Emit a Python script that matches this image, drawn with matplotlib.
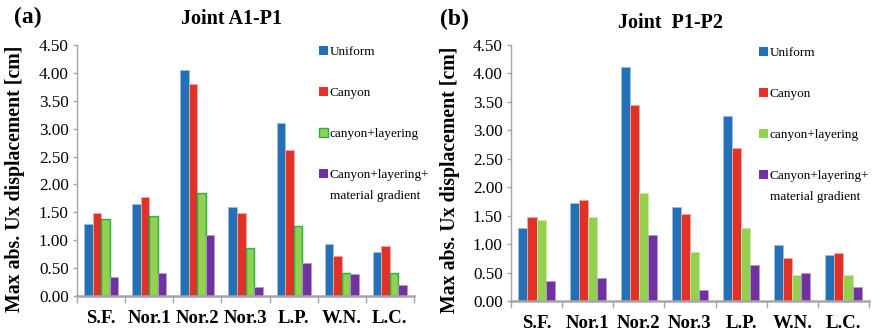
import numpy as np
import matplotlib
matplotlib.use("Agg")
import matplotlib.pyplot as plt
from matplotlib.patches import Patch

# Data
categories = ["S.F.", "Nor.1", "Nor.2", "Nor.3", "L.P.", "W.N.", "L.C."]
series_names = ["Uniform", "Canyon", "canyon+layering", "Canyon+layering+"]
extra_label = "material gradient"

a_uniform = [1.29, 1.65, 4.05, 1.60, 3.11, 0.93, 0.79]
a_canyon = [1.49, 1.78, 3.80, 1.49, 2.62, 0.72, 0.90]
a_layering = [1.38, 1.44, 1.85, 0.86, 1.26, 0.42, 0.42]
a_gradient = [0.34, 0.41, 1.09, 0.16, 0.59, 0.40, 0.20]

b_uniform = [1.29, 1.72, 4.11, 1.65, 3.25, 0.98, 0.80]
b_canyon = [1.47, 1.78, 3.44, 1.53, 2.69, 0.76, 0.84]
b_layering = [1.42, 1.47, 1.89, 0.87, 1.29, 0.45, 0.45]
b_gradient = [0.36, 0.41, 1.16, 0.19, 0.63, 0.49, 0.25]

yticks = [0.0, 0.5, 1.0, 1.5, 2.0, 2.5, 3.0, 3.5, 4.0, 4.5]

colors = ["#2370b6", "#e03226", "#93d050", "#7231a1"]
edge_light = ["#9dbfe0", "#f3a9a3", "#c9e8a8", "#b99bd3"]

plt.rcParams["font.family"] = ["Liberation Serif", "DejaVu Serif"]

fig = plt.figure(figsize=(8.8, 3.34), dpi=100)
ax_a = fig.add_axes([77 / 880, 1 - 296 / 334, 337 / 880, 251 / 334])
ax_b = fig.add_axes([511 / 880, 1 - 301 / 334, 358 / 880, 256 / 334])

w = 0.178


def draw_panel(ax, data, green_edge):
    x = np.arange(len(categories))
    for k, vals in enumerate(data):
        ec = edge_light[k]
        lw = 0.6
        if k == 2 and green_edge:
            ec = "#22b14c"
            lw = 1.0
        ax.bar(x + (k - 1.5) * w, vals, width=w, color=colors[k],
               edgecolor=ec, linewidth=lw, zorder=2)
    ax.set_xlim(-0.5, len(categories) - 0.5)
    ax.set_ylim(0, 4.5)
    ax.set_yticks(yticks)
    ax.set_yticklabels(["%.2f" % v for v in yticks], fontsize=12.3)
    ax.set_xticks(x)
    ax.set_xticklabels(categories, fontsize=13.5, fontweight="bold")
    ax.set_xticks(np.arange(-0.5, len(categories)), minor=True)
    ax.tick_params(axis="x", which="major", length=0, pad=10)
    ax.tick_params(axis="x", which="minor", length=5, color="#a6a6a6",
                   width=1)
    ax.tick_params(axis="y", length=3, color="#a6a6a6", width=1, pad=3)
    for s in ["top", "right"]:
        ax.spines[s].set_visible(False)
    ax.spines["left"].set_color("#a6a6a6")
    ax.spines["bottom"].set_color("#a6a6a6")
    ax.spines["bottom"].set_linewidth(1.8)
    ax.spines["left"].set_linewidth(1.0)


draw_panel(ax_a, [a_uniform, a_canyon, a_layering, a_gradient], True)
draw_panel(ax_b, [b_uniform, b_canyon, b_layering, b_gradient], False)


# legends
def add_legend(ax, green_edge, anchor):
    handles = []
    for k in range(4):
        ec = colors[k]
        lw = 0
        if k == 2 and green_edge:
            ec = "#22b14c"
            lw = 1.0
        handles.append(Patch(facecolor=colors[k], edgecolor=ec, linewidth=lw))
    leg = ax.legend(handles, series_names, loc="upper left",
                    bbox_to_anchor=anchor, bbox_transform=fig.transFigure,
                    frameon=False, fontsize=9.5, handlelength=0.65,
                    handleheight=0.65, handletextpad=0.15, labelspacing=2.2,
                    borderpad=0, borderaxespad=0)
    return leg


leg_a = add_legend(ax_a, True, (319 / 880, 1 - 46 / 334))
leg_b = add_legend(ax_b, False, (759 / 880, 1 - 47 / 334))

fig.canvas.draw()
for leg in [leg_a, leg_b]:
    bb = leg.get_texts()[3].get_window_extent()
    fig.text(bb.x0 / 880, (bb.y0 - 21) / 334, extra_label, fontsize=9.5,
             ha="left", va="bottom")

# titles and labels
fig.text(14 / 880, 1 - 17 / 334, "(a)", fontsize=17, fontweight="bold",
         va="center", ha="left")
fig.text(231 / 880, 1 - 19 / 334, "Joint A1-P1", fontsize=14.5,
         fontweight="bold", va="center", ha="center")
fig.text(440 / 880, 1 - 19 / 334, "(b)", fontsize=17, fontweight="bold",
         va="center", ha="left")
fig.text(670 / 880, 1 - 23 / 334, "Joint  P1-P2", fontsize=14.5,
         fontweight="bold", va="center", ha="center")
fig.text(15 / 880, 1 - 179 / 334, "Max abs. Ux displacement [cm]",
         fontsize=14.3, fontweight="bold", rotation=90,
         va="center", ha="center")
fig.text(450 / 880, 1 - 180 / 334, "Max abs. Ux displacement [cm]",
         fontsize=14.3, fontweight="bold", rotation=90,
         va="center", ha="center")

fig.savefig("out.png", dpi=100)
